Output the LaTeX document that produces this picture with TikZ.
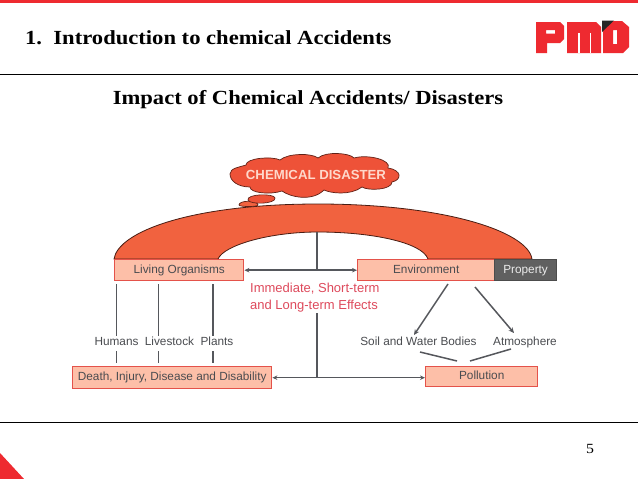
\documentclass[tikz,border=0pt]{standalone}
\usepackage{fontspec}
\setmainfont{Liberation Sans}
\newfontfamily\titlefont[FakeStretch=1.13]{Liberation Serif}
\usetikzlibrary{arrows.meta}
\definecolor{pmdred}{HTML}{EE2A30}
\definecolor{archfill}{HTML}{F1623F}
\definecolor{boxfill}{HTML}{FDBFA8}
\definecolor{boxline}{HTML}{E4524A}
\definecolor{cloudfill}{HTML}{EE5238}
\definecolor{linegray}{HTML}{55575C}
\definecolor{txtgray}{HTML}{4A4C50}
\definecolor{effect}{HTML}{DE4A5C}
\tikzset{
 x=1pt,y=-1pt,
 fbox/.style={draw=boxline,line width=1.4pt,fill=boxfill,inner sep=0pt,text=txtgray,font=\fontsize{11.8}{13}\selectfont,anchor=north west,text height=8.5pt,text depth=2.5pt},
 lab/.style={text=txtgray,font=\fontsize{11.8}{13}\selectfont,inner sep=0pt,text height=8.5pt,text depth=2.5pt},
 conn/.style={draw=linegray,line width=1.5pt},
 tip/.style={-{Stealth[length=5.5pt,width=5pt]}},
 both/.style={{Stealth[length=5pt,width=4.5pt]}-{Stealth[length=5pt,width=4.5pt]}},
 rule/.style={draw=black,line width=0.8pt},
 heading/.style={font=\titlefont\bfseries\fontsize{20}{22}\selectfont,text=black,inner sep=0pt}
}
\begin{document}
\begin{tikzpicture}
\useasboundingbox (0,0) rectangle (638,479);
\fill[white] (0,0) rectangle (638,479);
\fill[pmdred] (0,0) rectangle (638,3);
\draw[rule] (0,74.5) -- (638,74.5);
\draw[rule] (0,422.5) -- (638,422.5);
\fill[pmdred] (0,453) -- (24,479) -- (0,479) -- cycle;
\node[heading,anchor=west] (title) at (25,38) {1.\ \ Introduction to chemical Accidents};
\node[heading] (subtitle) at (308,100) {Impact of Chemical Accidents/ Disasters};
\node[font=\titlefont\fontsize{14}{16}\selectfont,inner sep=0pt] (page) at (590,449) {5};
% logo P
\fill[pmdred,even odd rule] (536,22) -- (560,22) -- (564,26) -- (564,39) -- (560,43) -- (547,43) -- (547,53) -- (536,53) -- cycle (546,30) rectangle (555,33.5);
% logo M
\fill[pmdred] (567,22) -- (596,22) -- (601,27) -- (601,53) -- (567,53) -- cycle;
\fill[white] (578,33) rectangle (579.5,53);
\fill[white] (589.5,33) rectangle (591,53);
% logo D
\fill[pmdred,even odd rule] (603,21) -- (622,21) -- (629,27) -- (629,47) -- (623,53) -- (603,53) -- cycle (613,30) rectangle (617,44);
\fill[black!85] (602,20.5) -- (614,20.5) -- (602,32) -- cycle;
% arch
\draw[draw=black!70!archfill,line width=0.8pt,fill=archfill] (114,259) .. controls (118,232) and (190,204) .. (318,204)
  .. controls (446,204) and (528,232) .. (532,259) -- (428,259)
  .. controls (422,242) and (370,232) .. (318,232)
  .. controls (270,232) and (224,245) .. (218,259) -- cycle;
% cloud
\draw[draw=black!60!cloudfill,line width=0.7pt,fill=archfill] (239,205) .. controls (239,200) and (258,200) .. (258,205) .. controls (258,207) and (239,207) .. cycle;
\draw[draw=black!60!cloudfill,line width=0.7pt,fill=cloudfill] (248,200) .. controls (246,194) and (274,193) .. (275,198) .. controls (276,204) and (250,205) .. cycle;
\draw[draw=black!60!cloudfill,line width=0.7pt,fill=cloudfill] (230,174)
 .. controls (230,168) and (240,167) .. (246,165)
 .. controls (246,158) and (272,156) .. (280,160)
 .. controls (288,153) and (312,153) .. (318,158)
 .. controls (326,151) and (350,153) .. (354,158)
 .. controls (368,154) and (392,160) .. (388,168)
 .. controls (402,170) and (402,180) .. (392,182)
 .. controls (392,190) and (368,191) .. (362,187)
 .. controls (350,196) and (330,193) .. (324,190)
 .. controls (312,202) and (290,197) .. (282,191)
 .. controls (270,195) and (250,193) .. (250,187)
 .. controls (238,187) and (230,181) .. cycle;
\node[font=\bfseries\fontsize{13.2}{15}\selectfont,text=boxfill!60!white,inner sep=0pt] (cloudtext) at (316,174.5) {CHEMICAL DISASTER};
% boxes
\node[fbox,minimum width=129pt,minimum height=21pt] (living) at (114,259) {Living Organisms};
\node[fbox,minimum width=137pt,minimum height=21pt] (env) at (357,259) {Environment};
\node[draw=black!70,line width=1.2pt,fill=gray!75!black,text=white!85!gray,inner sep=0pt,anchor=north west,minimum width=62pt,minimum height=21pt,font=\fontsize{11.8}{13}\selectfont,text height=8.5pt,text depth=2.5pt] (prop) at (494,259) {Property};
\node[fbox,minimum width=199pt,minimum height=22pt] (death) at (72,366) {Death, Injury, Disease and Disability};
\node[fbox,minimum width=112pt,minimum height=20pt] (poll) at (425,366) {Pollution};
% labels
\node[lab] (humans) at (116.5,342) {Humans};
\node[lab] (livestock) at (169.5,342) {Livestock};
\node[lab] (plants) at (217,342) {Plants};
\node[lab] (soil) at (418.5,342) {Soil and Water Bodies};
\node[lab] (atm) at (525,342) {Atmosphere};
\node[text=effect,font=\fontsize{13}{17}\selectfont,align=left,inner sep=0pt,anchor=north west] (effects) at (250,283) {Immediate, Short-term\\and Long-term Effects};
\coordinate (archbase) at (317,232);
\coordinate (mid) at (317,270);
\coordinate (midlow) at (317,313);
\coordinate (bottom) at (317,377);
% connectors
\draw[conn] (archbase) -- (mid);
\draw[conn,both] (living.east) -- (env.west);
\draw[conn] (midlow) -- (bottom);
\draw[conn,both] (death.east) -- (poll.west |- death.east);
\foreach \x in {116.5,158.5,213}{
  \draw[conn] (\x,284) -- (\x,336);
  \draw[conn] (\x,351) -- (\x,363);
}
\draw[conn,tip] (448,284) -- (414,335);
\draw[conn,tip] (475,287) -- (514,333);
\draw[conn] (420,352) -- (457,361);
\draw[conn] (511,349) -- (470,361);
\end{tikzpicture}
\end{document}
